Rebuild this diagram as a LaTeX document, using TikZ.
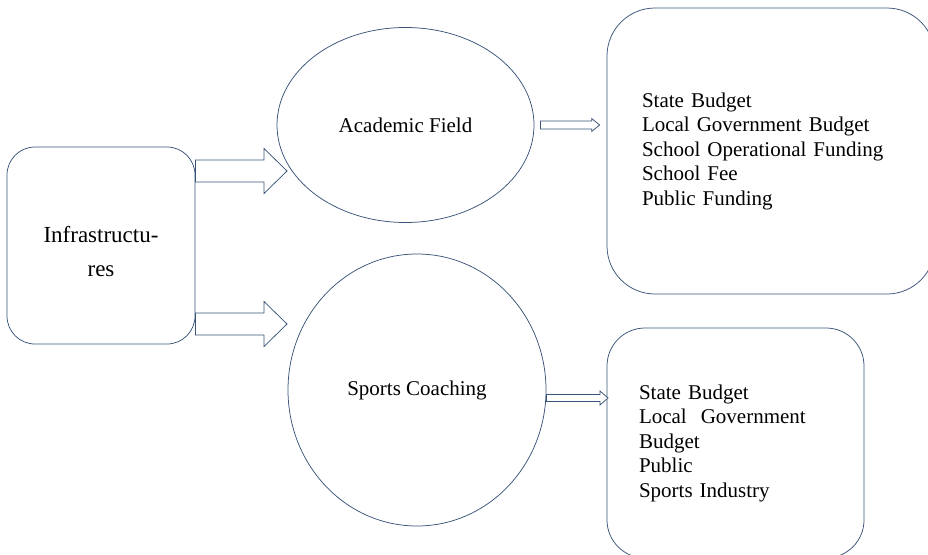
\documentclass[tikz,border=0pt]{standalone}
\usepackage{fontspec}
\setmainfont{Liberation Serif}
\usetikzlibrary{shapes.geometric,positioning,calc}
\definecolor{frame}{RGB}{58,84,121}
\tikzset{
	hollow/.style n args={3}{draw=frame, line width=0.75pt, fill=white,
		to path={let \p1=(\tikztostart), \p2=(\tikztotarget) in
			(\x1,\y1+#1) -- (\x2-#3,\y1+#1) -- (\x2-#3,\y1+#2) -- (\x2,\y1)
			-- (\x2-#3,\y1-#2) -- (\x2-#3,\y1-#1) -- (\x1,\y1-#1) -- cycle}}
}
\begin{document}
\begin{tikzpicture}[x=1pt, y=-1pt,
					box/.style={draw=frame, line width=0.75pt, rounded corners=#1, inner ysep=0pt},
					oval/.style={ellipse, draw=frame, line width=0.75pt, inner sep=0pt},
					txt/.style={font=\fontsize{21}{24.5}\selectfont}]
	\useasboundingbox (0,0) rectangle (928,554);
	\clip (0,0) rectangle (928,554);

	\node[box=28pt, txt, font=\fontsize{23}{34}\selectfont, align=center,
		minimum width=188pt, minimum height=197pt] (infra) at (101,245.5) {\rule{0pt}{29pt}Infrastructu-\\res};

	\node[oval, txt, minimum width=257pt, minimum height=195pt] (acad) at (405.5,125) {Academic Field};
	\node[oval, txt, minimum width=258pt, minimum height=272pt] (sport) at (417,390) {Sports Coaching};

	\node[box=48pt, txt, align=left, inner xsep=35pt, text width=258pt,
		minimum height=286pt] (fund1) at (771,151) {State Budget\\Local Government Budget\\School Operational Funding\\School Fee\\Public Funding};
	\node[box=38pt, txt, align=left, inner xsep=32pt, text width=193pt,
		minimum height=230pt] (fund2) at (735.5,443) {State Budget\\Local~~Government\\Budget\\Public\\Sports Industry};

	\coordinate (tip1) at (287,171);
	\coordinate (tip2) at (287,324);
	\coordinate (tip4) at (608,398);

	\draw[hollow={11pt}{22.5pt}{23pt}] (infra.east |- tip1) to (tip1);
	\draw[hollow={11pt}{22.5pt}{23pt}] (infra.east |- tip2) to (tip2);
	\draw[hollow={4pt}{6.5pt}{8pt}] ([xshift=6pt]acad.east) to ([xshift=-7pt]fund1.west |- acad.east);
	\draw[hollow={3.5pt}{7pt}{8pt}] (sport.east |- tip4) to (tip4);
\end{tikzpicture}
\end{document}
